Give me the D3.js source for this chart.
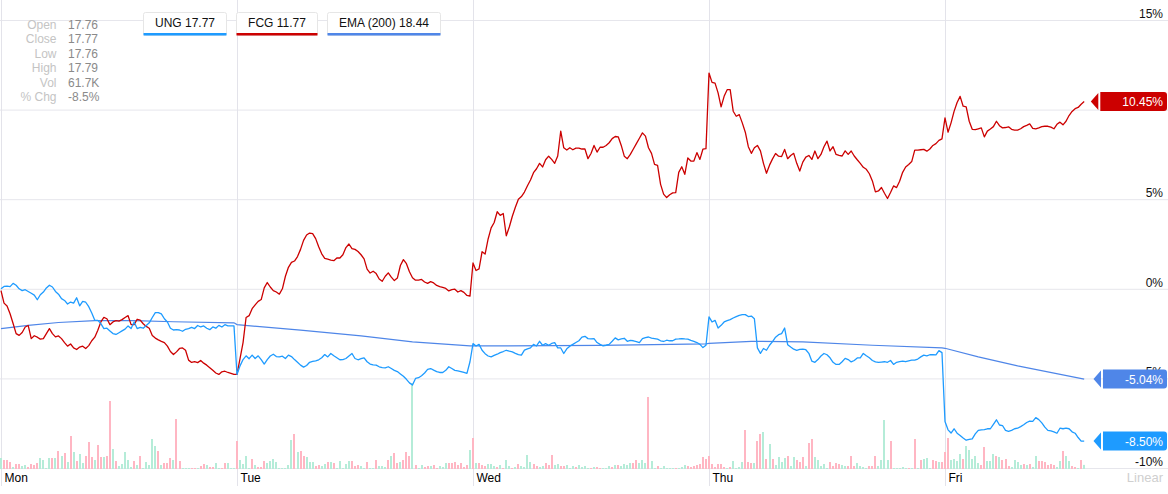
<!DOCTYPE html>
<html>
<head>
<meta charset="utf-8">
<script src="https://cdnjs.cloudflare.com/ajax/libs/d3/7.8.5/d3.min.js"></script>
<style>
  html, body { margin: 0; padding: 0; background: #fff; }
  svg { display: block; font-family: "Liberation Sans", Arial, sans-serif; }
</style>
</head>
<body>
<div id="chart"></div>
<script>
// day labels and y ticks (percent change)
const days = ["Mon", "Tue", "Wed", "Thu", "Fri"];
const slotsPerDay = 78; // 5-minute bars, 9:30-16:00
const yTicks = [15, 10, 5, 0, -5, -10];

// UNG % change, one value per 5-min bar
const ungMon = [0.0,0.13,0.15,0.12,0.3,0.2,0.0,-0.1,-0.05,-0.15,
  -0.25,-0.35,-0.61,-0.33,-0.18,0.05,0.2,0.1,-0.15,-0.3,
  -0.55,-0.65,-0.85,-0.74,-0.8,-0.5,-0.95,-0.7,-0.75,-1.0,
  -1.35,-1.76,-1.76,-1.94,-2.22,-2.2,-2.35,-2.5,-2.55,-2.45,
  -2.35,-2.25,-2.07,-2.22,-1.85,-2.22,-2.15,-2.2,-2.05,-1.9,
  -1.6,-1.33,-1.33,-1.4,-1.67,-1.85,-2.2,-2.3,-2.28,-2.3,
  -2.37,-2.26,-2.22,-2.15,-2.22,-2.05,-2.13,-2.07,-2.2,-2.28,
  -2.13,-2.2,-2.04,-2.13,-2.0,-2.07,-2.07,-2.07];
const ungTue = [-4.78,-4.3,-3.95,-3.74,-3.9,-3.7,-3.89,-3.74,-3.95,-4.2,
  -3.95,-3.75,-3.65,-3.78,-3.8,-3.76,-3.89,-3.7,-3.78,-3.95,
  -4.1,-4.26,-4.37,-4.28,-4.1,-4.05,-4.02,-3.96,-3.85,-3.67,
  -3.8,-3.61,-3.74,-3.85,-3.96,-3.95,-3.89,-3.75,-3.61,-3.89,
  -3.96,-3.9,-3.85,-4.07,-4.2,-4.24,-4.26,-4.35,-4.4,-4.41,
  -4.35,-4.45,-4.55,-4.62,-4.75,-4.88,-5.05,-5.25,-5.37,-5.0,
  -4.96,-4.85,-4.7,-4.5,-4.45,-4.54,-4.62,-4.67,-4.67,-4.55,
  -4.35,-4.45,-4.55,-4.58,-4.62,-4.67,-4.72,-4.07];
const ungWed = [-3.06,-3.19,-3.1,-3.43,-3.62,-3.75,-3.8,-3.72,-3.65,-3.56,
  -3.5,-3.43,-3.48,-3.52,-3.6,-3.67,-3.7,-3.42,-3.35,-3.3,
  -3.1,-3.19,-2.93,-3.15,-3.06,-3.15,-3.05,-3.0,-3.3,-3.3,
  -3.61,-3.35,-3.2,-3.1,-3.0,-2.9,-2.7,-2.65,-2.78,-2.8,
  -2.78,-3.0,-3.1,-3.19,-3.15,-3.1,-2.93,-2.74,-2.85,-2.8,
  -2.76,-2.93,-2.88,-2.9,-2.95,-3.0,-2.78,-2.72,-2.69,-2.75,
  -2.78,-2.81,-2.9,-2.94,-2.87,-2.9,-2.9,-2.81,-2.8,-2.78,
  -2.8,-2.81,-2.88,-2.93,-3.0,-3.1,-3.28,-3.15];
const ungThu = [-1.57,-1.85,-1.76,-2.19,-2.04,-1.85,-1.78,-1.72,-1.63,-1.55,
  -1.48,-1.44,-1.44,-1.55,-1.52,-1.67,-3.3,-3.6,-3.33,-3.43,
  -3.15,-2.95,-2.7,-2.56,-2.5,-2.19,-3.12,-3.25,-3.37,-3.43,
  -3.38,-3.37,-3.4,-3.6,-4.04,-4.1,-3.95,-3.75,-3.61,-3.68,
  -3.85,-4.1,-4.22,-4.22,-4.07,-3.88,-3.95,-4.08,-4.0,-3.86,
  -3.85,-3.61,-3.74,-3.85,-4.0,-4.08,-4.11,-4.09,-4.07,-4.1,
  -4.0,-4.22,-4.1,-4.06,-4.04,-4.07,-4.02,-3.98,-3.98,-3.92,
  -3.8,-3.7,-3.74,-3.68,-3.67,-3.69,-3.45,-3.56];
const ungFri = [-7.41,-7.87,-8.05,-7.81,-8.06,-8.19,-8.33,-8.45,-8.4,-8.37,
  -8.1,-7.9,-7.87,-7.86,-7.81,-7.81,-7.56,-7.31,-7.6,-7.63,
  -7.9,-7.95,-7.9,-7.81,-7.78,-7.69,-7.59,-7.46,-7.38,-7.4,
  -7.19,-7.3,-7.48,-7.72,-7.9,-7.93,-7.98,-8.06,-7.78,-7.81,
  -7.78,-7.81,-7.98,-8.06,-8.3,-8.5,-8.5];

// FCG % change
const fcgMon = [-0.1,-0.8,-0.96,-1.39,-1.94,-2.5,-2.6,-2.44,-2.13,-2.05,
  -2.78,-2.62,-2.7,-2.81,-2.78,-2.5,-2.22,-2.5,-2.68,-2.63,
  -2.78,-3.0,-3.2,-3.08,-3.3,-3.39,-3.25,-3.2,-3.33,-3.17,
  -2.9,-2.7,-2.31,-1.85,-1.6,-1.67,-2.0,-1.85,-1.78,-1.8,
  -1.72,-1.6,-1.5,-2.0,-2.0,-1.7,-1.75,-1.95,-2.1,-2.2,
  -2.6,-2.75,-2.85,-2.93,-3.0,-3.2,-3.5,-3.67,-3.52,-3.33,
  -3.3,-3.43,-3.98,-4.11,-4.07,-4.12,-4.0,-4.15,-4.26,-4.4,
  -4.55,-4.7,-4.78,-4.63,-4.6,-4.67,-4.72,-4.78];
const fcgTue = [-4.78,-3.9,-3.0,-1.6,-1.5,-1.11,-0.9,-0.7,-0.6,0.05,
  0.35,0.1,-0.1,-0.18,-0.3,0.0,0.7,1.2,1.47,1.55,
  1.8,2.2,2.7,3.0,3.11,3.08,2.8,2.35,1.95,1.7,
  1.65,1.6,1.57,1.72,1.72,1.9,2.3,2.5,2.24,2.2,
  2.08,1.9,1.67,1.1,0.88,0.98,0.85,0.55,0.42,0.7,
  0.89,0.65,0.46,0.6,1.3,1.63,1.4,0.95,0.62,0.48,
  0.48,0.52,0.38,0.3,0.4,0.33,0.19,0.12,0.08,0.02,
  -0.12,-0.05,-0.02,-0.18,-0.1,-0.2,-0.37,-0.41];
const fcgWed = [1.44,1.02,1.11,2.07,1.94,2.78,3.4,3.7,4.3,4.1,
  4.2,2.96,3.45,4.05,4.55,5.0,5.15,5.4,5.75,6.07,
  6.48,6.7,7.0,6.8,7.2,7.4,7.22,7.0,7.41,8.8,
  7.87,7.74,7.87,7.76,7.85,7.85,7.8,7.8,7.26,7.55,
  8.0,7.63,7.9,7.9,8.0,8.15,8.38,8.5,8.48,8.0,
  7.4,7.26,7.5,7.8,8.1,8.4,8.7,8.52,7.87,7.56,
  6.94,6.89,5.83,5.28,5.09,5.25,5.35,5.37,6.5,6.81,
  6.39,7.3,7.13,7.13,7.6,7.22,7.8,7.82];
const fcgThu = [12.04,11.52,11.48,10.93,10.15,10.74,11.11,11.11,9.91,9.63,
  9.72,9.26,8.74,7.93,7.56,7.87,8.0,7.7,7.0,6.45,
  6.9,7.25,7.55,7.4,7.38,7.78,7.26,7.44,7.56,7.0,
  6.57,7.07,7.35,7.44,7.22,7.69,7.26,7.5,7.93,8.24,
  7.69,7.93,7.5,7.44,7.41,7.7,7.5,7.69,7.41,7.2,
  7.0,6.78,6.67,6.42,6.02,5.41,5.46,5.65,5.33,5.04,
  5.37,5.74,5.65,6.0,6.5,6.8,6.94,7.1,7.74,7.74,
  7.76,7.78,7.68,7.8,8.0,8.1,8.28,8.37];
const fcgFri = [9.54,8.74,9.26,9.9,10.4,10.74,10.19,10.15,9.35,8.9,
  8.88,8.93,8.98,8.48,8.8,8.92,9.05,9.35,9.1,8.98,
  9.0,9.04,8.9,8.86,8.85,8.93,9.05,9.12,9.2,8.95,
  8.92,8.98,9.05,9.07,9.07,9.02,8.93,9.18,9.3,9.15,
  9.35,9.67,9.9,10.05,10.12,10.3,10.45];

// EMA(200) of UNG, % change, at bar index
const emaSlot = [0, 9, 19, 31, 44, 57, 77, 78, 99, 119, 136, 155, 156, 198, 233, 234, 248, 265, 288, 311, 312, 323, 336, 358];
const emaPct = [-2.22, -2.04, -1.88, -1.78, -1.78, -1.84, -1.9, -2.0, -2.31, -2.63, -2.96, -3.19, -3.19, -3.16, -3.07, -3.05, -2.93, -2.96, -3.15, -3.3, -3.32, -3.8, -4.3, -5.04];

// UNG volume (thousands) and bar direction (u = up, d = down)
const volMon = [165,135,135,105,30,75,75,45,60,30,
  75,60,90,165,135,15,165,165,165,270,
  195,240,105,495,255,120,225,90,195,405,
  180,135,360,180,180,195,1020,300,120,45,
  75,255,135,30,120,60,195,15,105,60,
  450,345,270,60,90,90,165,135,750,120,
  15,15,15,15,15,15,45,75,60,30,
  30,90,15,15,90,90,15,15];
const volTue = [420,135,75,195,15,150,60,30,30,120,
  90,120,150,105,15,15,15,60,435,525,
  255,270,195,180,105,105,45,60,45,75,
  105,105,90,15,120,15,75,120,120,45,
  60,45,15,105,15,15,135,45,45,30,
  135,195,240,90,105,135,255,195,1290,60,
  15,60,30,45,45,60,15,45,30,90,
  90,90,105,60,90,30,60,285];
const volWed = [465,90,90,60,45,75,75,45,30,60,
  15,135,45,15,30,75,45,30,210,105,
  75,45,30,45,90,60,210,60,75,45,
  45,60,15,45,30,60,30,45,15,15,
  30,30,15,15,15,45,30,60,60,45,
  75,60,90,90,135,90,135,90,1080,120,
  15,45,15,45,15,15,15,15,15,30,
  60,45,30,45,60,75,180,150];
const volThu = [195,75,30,75,75,30,15,30,120,15,
  30,105,585,105,90,90,420,525,555,150,
  375,150,60,180,105,165,195,45,180,135,
  105,180,45,390,450,180,135,45,75,15,
  105,45,90,75,60,45,45,195,45,90,
  45,30,15,45,45,195,45,135,735,135,
  420,15,15,15,30,15,15,15,450,15,
  135,150,165,15,135,120,105,105];
const volFri = [255,465,135,150,120,225,150,345,285,150,
  195,90,60,330,120,120,225,195,180,135,
  150,45,30,135,105,60,75,60,75,30,
  195,120,120,105,60,75,60,30,120,270,
  195,120,45,30,15,135,61.7];
const dirMon = "udddudduud ddduuuudud udududuudd dudduddudu uuuududuuu uududddudd uuudduddud duudduuu";
const dirTue = "duuuududdd uuuuuuuuud udduuudduu duduuuuudd duuduuduuu duddudddud uuddudduuu dddddddu";
const dirWed = "duddduuudu duududuuuu dduuddduud duuuduuuud udduuududu uuudduuudu uduuuuuduu uddddddd";
const dirThu = "dddddduduu uuddduddud uduuuuduud ddudduuuuu dddduudddu uuuddduuuu duuuuududu duuuddud";
const dirFri = "dduuuuduuu uudduuudud dduuuududu udddddduud uuddudu";

// legend and quote box
const legendNames = ["UNG 17.77", "FCG 11.77", "EMA (200) 18.44"];
const infoLabels = ["Open", "Close", "Low", "High", "Vol", "% Chg"];
const infoValues = ["17.76", "17.77", "17.76", "17.79", "61.7K", "-8.5%"];

const ungColor = "#1e9bff", fcgColor = "#cc0000", emaColor = "#4f86e8";
const upColor = "#b5ecd8", downColor = "#ffb6c3";

const ung = [].concat(ungMon, ungTue, ungWed, ungThu, ungFri);
const fcg = [].concat(fcgMon, fcgTue, fcgWed, fcgThu, fcgFri);
const vol = [].concat(volMon, volTue, volWed, volThu, volFri);
const dir = (dirMon + dirTue + dirWed + dirThu + dirFri).replace(/ /g, "");
const ema = emaSlot.map((s, i) => ({ s: s, v: emaPct[i] }));

const W = 1168, H = 494;
const svg = d3.select("#chart").append("svg").attr("width", W).attr("height", H);

const x = d3.scaleLinear().domain([0, slotsPerDay * 5]).range([1, 1181]);
const y = d3.scaleLinear().domain([-10, 15]).range([468, 20]);
const yVol = d3.scaleLinear().domain([0, 1500]).range([469, 369]);

// last-value tags (drawn later, needed here to hide covered tick labels)
const tags = [
  { v: fcg[fcg.length - 1], c: fcgColor },
  { v: emaPct[emaPct.length - 1], c: emaColor },
  { v: ung[ung.length - 1], c: ungColor }
];

// horizontal grid + right labels
const yAxis = svg.append("g").attr("class", "y axis")
  .call(d3.axisRight(y).tickValues(yTicks).tickSize(W).tickFormat(d => d + "%"));
yAxis.select(".domain").remove();
yAxis.selectAll(".tick line").attr("stroke", "#e6e6ec");
yAxis.selectAll(".tick text")
  .attr("x", 1163).attr("dy", -2.5)
  .style("text-anchor", "end")
  .style("font-size", "12px")
  .style("fill", "#111");
// a label that sits fully under a tag is not visible in the chart
yAxis.selectAll(".tick").filter(d => tags.some(t => Math.abs(y(d) - 6.5 - y(t.v)) < 5)).select("text").remove();

// vertical day grid + day labels
const xAxis = svg.append("g").attr("class", "x axis")
  .attr("transform", "translate(0,486)")
  .call(d3.axisBottom(x).tickValues(days.map((d, i) => i * slotsPerDay))
    .tickSize(-486).tickFormat((d, i) => days[i]));
xAxis.select(".domain").remove();
xAxis.selectAll(".tick line").attr("stroke", "#e3e3ea");
xAxis.selectAll(".tick text")
  .attr("x", 3).attr("y", -4).attr("dy", 0)
  .style("text-anchor", "start")
  .style("font-size", "12px")
  .style("fill", "#000");

svg.append("text").attr("x", 1163).attr("y", 482)
  .style("text-anchor", "end").style("font-size", "13px").style("fill", "#cfcfcf")
  .text("Linear");

// volume
svg.append("g").selectAll("rect").data(vol).enter().append("rect")
  .attr("x", (d, i) => Math.round(x(i)) - 1)
  .attr("width", 2)
  .attr("y", d => yVol(d))
  .attr("height", d => yVol(0) - yVol(d))
  .attr("fill", (d, i) => dir[i] === "u" ? upColor : downColor);

// lines
const line = d3.line().x((d, i) => x(i)).y(d => y(d));
svg.append("path").datum(ema.map(d => d.v))
  .attr("fill", "none").attr("stroke", emaColor).attr("stroke-width", 1.2)
  .attr("d", d3.line().x((d, i) => x(ema[i].s)).y(d => y(d)));
svg.append("path").datum(fcg)
  .attr("fill", "none").attr("stroke", fcgColor).attr("stroke-width", 1.3)
  .attr("stroke-linejoin", "round").attr("d", line);
svg.append("path").datum(ung)
  .attr("fill", "none").attr("stroke", ungColor).attr("stroke-width", 1.3)
  .attr("stroke-linejoin", "round").attr("d", line);

tags.forEach(t => {
  const g = svg.append("g");
  const cy = y(t.v);
  const txt = g.append("text").attr("x", 1163).attr("y", cy + 4.5)
    .style("text-anchor", "end").style("font-size", "12px").style("fill", "#fff")
    .text(t.v.toFixed(2) + "%");
  const tw = txt.node().getComputedTextLength();
  const left = 1163 - tw - 22;
  g.insert("path", "text")
    .attr("d", `M${left},${cy - 9.5} H1164 a3,3 0 0 1 3,3 V${cy + 6.5} a3,3 0 0 1 -3,3 H${left} Z`)
    .attr("fill", t.c);
  g.insert("path", "text")
    .attr("d", `M${left - 2},${cy - 8.5} L${left - 9.5},${cy} L${left - 2},${cy + 8.5} Z`)
    .attr("fill", t.c);
});

// legend boxes
const legendColors = [ungColor, fcgColor, emaColor];
let lx = 143;
legendNames.forEach((name, i) => {
  const g = svg.append("g");
  const txt = g.append("text").attr("y", 26.5)
    .style("font-size", "12px").style("fill", "#111").text(name);
  const tw = txt.node().getComputedTextLength();
  const bw = Math.round(tw + 23);
  g.insert("rect", "text").attr("x", lx + 0.5).attr("y", 12.5).attr("width", bw).attr("height", 23)
    .attr("rx", 2).attr("fill", "#fff").attr("stroke", "#e6e6e6");
  g.insert("rect", "text").attr("x", lx + 0.5).attr("y", 33).attr("width", bw).attr("height", 2.5)
    .attr("fill", legendColors[i]);
  txt.attr("x", lx + 0.5 + bw / 2).style("text-anchor", "middle");
  lx += bw + 10;
});

// quote box
const info = svg.append("g");
infoLabels.forEach((lab, i) => {
  info.append("text").attr("x", 56.5).attr("y", 28.5 + i * 14.5)
    .style("text-anchor", "end").style("font-size", "12px").style("fill", "#c4c4c4").text(lab);
  info.append("text").attr("x", 68).attr("y", 28.5 + i * 14.5)
    .style("font-size", "12px").style("fill", "#8a8a8a").text(infoValues[i]);
});
</script>
</body>
</html>
